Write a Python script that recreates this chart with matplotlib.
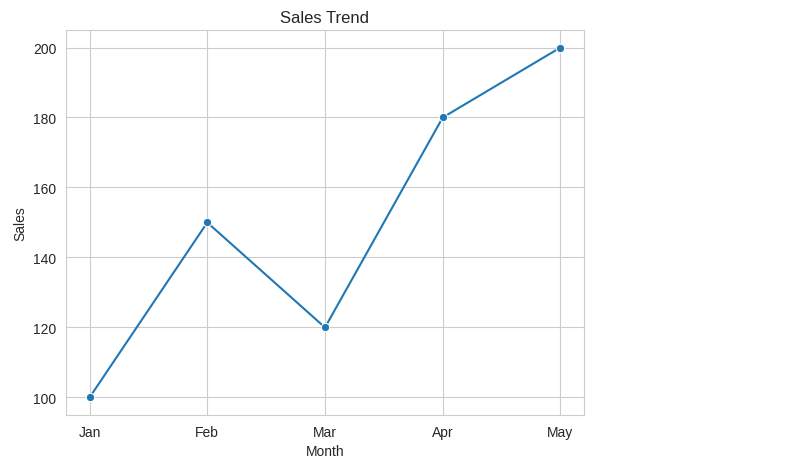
import matplotlib
matplotlib.use("Agg")
import matplotlib.pyplot as plt
import seaborn as sns

months = ['Jan', 'Feb', 'Mar', 'Apr', 'May']
sales = [100, 150, 120, 180, 200]

sns.set_style("whitegrid")
plt.rcParams['font.family'] = ['Liberation Sans', 'DejaVu Sans']

fig = plt.figure(figsize=(8, 4.6), dpi=100)
ax = fig.add_axes([0.0825, 0.0957, 0.6475, 0.8369])

sns.lineplot(x=months, y=sales, marker='o', ax=ax)

ax.set_title('Sales Trend', fontsize=12)
ax.set_xlabel('Month')
ax.set_ylabel('Sales')

fig.savefig('out.png', dpi=100)
